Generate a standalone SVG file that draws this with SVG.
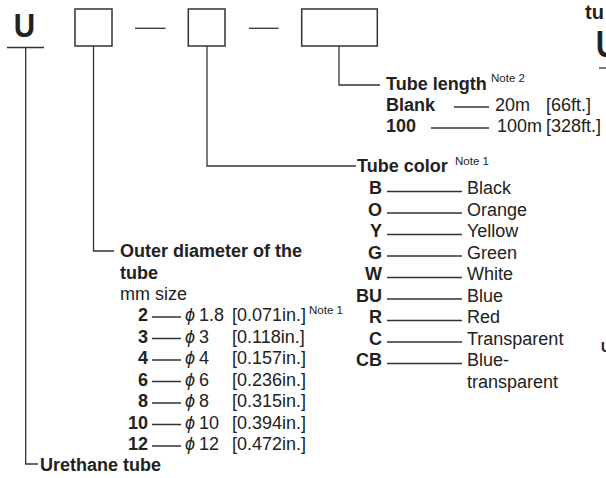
<svg xmlns="http://www.w3.org/2000/svg" width="606" height="478" viewBox="0 0 606 478">
<style>
text{font-family:"Liberation Sans",Arial,Helvetica,sans-serif;font-size:18px;fill:#222}
.b{font-weight:bold}
.sup{font-size:11.5px}
.end{text-anchor:end}
.phi{font-style:italic}
.ln{stroke:#333;stroke-width:1.3;fill:none}
.box{stroke:#333;stroke-width:1.5;fill:#fff}
</style>
<rect width="606" height="478" fill="#fff"/>
<g id="code">
<text class="b" transform="translate(13.8,37) scale(0.87,1)" style="font-size:34px">U</text>
<line class="ln" x1="7" y1="47.5" x2="44" y2="47.5"/>
<rect class="box" x="75" y="9" width="37" height="37"/>
<line class="ln" x1="135" y1="28.3" x2="165.5" y2="28.3"/>
<rect class="box" x="188.3" y="9" width="36.7" height="37"/>
<line class="ln" x1="249" y1="28.3" x2="278.5" y2="28.3"/>
<rect class="box" x="301.7" y="9" width="75.6" height="37"/>
</g>
<g id="connectors">
<polyline class="ln" points="25.7,47.5 25.7,464 38,464"/>
<polyline class="ln" points="93.5,46 93.5,251 114,251"/>
<polyline class="ln" points="207,46 207,166 356,166"/>
<polyline class="ln" points="339,46 339,85 380,85"/>
</g>
<g id="tube-length">
<text class="b" x="386" y="90">Tube length</text>
<text class="sup" x="491" y="82">Note 2</text>
<text class="b" x="386" y="111">Blank</text>
<line class="ln" x1="454" y1="107" x2="489" y2="107"/>
<text x="495" y="111">20m</text>
<text x="546" y="111">[66ft.]</text>
<text class="b" x="386" y="132">100</text>
<line class="ln" x1="431" y1="128" x2="489" y2="128"/>
<text x="497" y="132">100m</text>
<text x="546" y="132">[328ft.]</text>
</g>
<g id="tube-color">
<text class="b" x="357" y="172">Tube color</text>
<text class="sup" x="455" y="165">Note 1</text>
<text class="b end" x="382" y="194">B</text>
<text class="b end" x="382" y="215.5">O</text>
<text class="b end" x="382" y="237">Y</text>
<text class="b end" x="382" y="258.5">G</text>
<text class="b end" x="382" y="280">W</text>
<text class="b end" x="382" y="301.5">BU</text>
<text class="b end" x="382" y="323">R</text>
<text class="b end" x="382" y="344.5">C</text>
<text class="b end" x="382" y="366">CB</text>
<path class="ln" d="M387,191.5H462M387,213H462M387,234.5H462M387,256H462M387,277.5H462M387,299H462M387,320.5H462M387,342H462M387,363.5H462"/>
<text x="467" y="194">Black</text>
<text x="467" y="215.5">Orange</text>
<text x="467" y="237">Yellow</text>
<text x="467" y="258.5">Green</text>
<text x="467" y="280">White</text>
<text x="467" y="301.5">Blue</text>
<text x="467" y="323">Red</text>
<text x="467" y="344.5">Transparent</text>
<text x="467" y="366">Blue-</text>
<text x="467" y="387.5">transparent</text>
</g>
<g id="outer-diameter">
<text class="b" x="120" y="257">Outer diameter of the</text>
<text class="b" x="120" y="278.5">tube</text>
<text x="120" y="300">mm size</text>
<text class="b end" x="148" y="321">2</text>
<text class="b end" x="148" y="342.5">3</text>
<text class="b end" x="148" y="364">4</text>
<text class="b end" x="148" y="385.5">6</text>
<text class="b end" x="148" y="407">8</text>
<text class="b end" x="148" y="428.5">10</text>
<text class="b end" x="148" y="450">12</text>
<path class="ln" d="M152,317H181M152,338.5H181M152,360H181M152,381.5H181M152,403H181M152,424.5H181M152,446H181"/>
<text class="phi" x="185" y="321">ϕ</text>
<text class="phi" x="185" y="342.5">ϕ</text>
<text class="phi" x="185" y="364">ϕ</text>
<text class="phi" x="185" y="385.5">ϕ</text>
<text class="phi" x="185" y="407">ϕ</text>
<text class="phi" x="185" y="428.5">ϕ</text>
<text class="phi" x="185" y="450">ϕ</text>
<text x="199" y="321">1.8</text>
<text x="199" y="342.5">3</text>
<text x="199" y="364">4</text>
<text x="199" y="385.5">6</text>
<text x="199" y="407">8</text>
<text x="199" y="428.5">10</text>
<text x="199" y="450">12</text>
<text x="232" y="321">[0.071in.]</text>
<text class="sup" x="309" y="314">Note 1</text>
<text x="232" y="342.5">[0.118in.]</text>
<text x="232" y="364">[0.157in.]</text>
<text x="232" y="385.5">[0.236in.]</text>
<text x="232" y="407">[0.315in.]</text>
<text x="232" y="428.5">[0.394in.]</text>
<text x="232" y="450">[0.472in.]</text>
</g>
<g id="urethane-tube">
<text class="b" x="40" y="470.5">Urethane tube</text>
</g>
<g id="edge-fragment">
<text class="b" x="585" y="19" style="font-size:20px">tu</text>
<text class="b" transform="translate(595.8,57) scale(0.87,1)" style="font-size:36px">U</text>
<line class="ln" x1="599" y1="68" x2="606" y2="68"/>
<text class="b" x="601" y="352" style="font-size:14px">U</text>
</g>
</svg>
